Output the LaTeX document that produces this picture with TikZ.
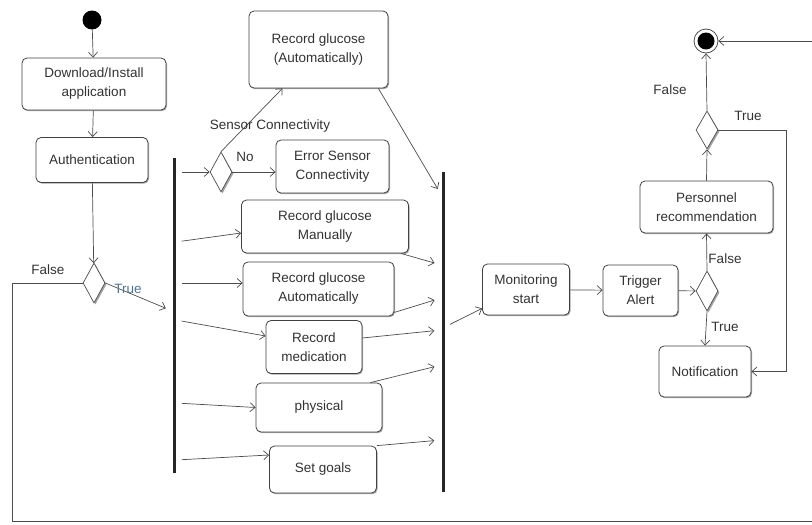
\documentclass[tikz,border=0pt]{standalone}
\usepackage{fontspec}
\setmainfont{Liberation Sans}
\usetikzlibrary{arrows.meta,shapes.geometric,shadows}
\definecolor{truecol}{RGB}{80,115,145}
\begin{document}
\begin{tikzpicture}[x=1pt,y=-1pt,
  every node/.style={font=\fontsize{13.5}{19}\selectfont, text=black!80},
  act/.style={draw=black!75, line width=0.8pt, rounded corners=5pt, fill=white, align=center, inner sep=0pt,
    drop shadow={shadow xshift=1pt,shadow yshift=-1.2pt,fill=black!50,opacity=0.7}},
  dec/.style={diamond, draw=black!70, line width=0.7pt, fill=white, inner sep=0pt, minimum width=22pt, minimum height=40pt,
    drop shadow={shadow xshift=1.5pt,shadow yshift=-1.5pt,fill=black!45,opacity=0.8}},
  bar/.style={fill=black!85, inner sep=0pt, minimum width=3pt},
  arr/.style={draw=black!70, line width=0.7pt, -{Straight Barb[length=5pt,width=9pt]}},
  fromBar/.style={shorten <=6pt},
  toBar/.style={shorten >=7pt},
  lbl/.style={text=black!80}
]
\useasboundingbox (0,0) rectangle (812,525);

% initial and final
\node[circle, fill=black, minimum size=19pt, inner sep=0pt] (start) at (92,20) {};
\node[circle, draw=black!70, line width=0.8pt, minimum size=24pt, inner sep=0pt,
  path picture={\fill[black] (path picture bounding box.center) circle (8.5pt);}] (final) at (706,41) {};

% left column
\node[act, minimum width=144pt, minimum height=52pt] (dl) at (94,84) {Download/Install\\application};
\node[act, minimum width=112pt, minimum height=45pt] (auth) at (92,160) {Authentication};
\node[dec] (d1) at (94,283) {};

% fork bars
\node[bar, minimum height=315pt] (bar1) at (174,315.5) {};
\node[bar, minimum height=320pt] (bar2) at (443,332) {};

% middle activities
\node[act, minimum width=139pt, minimum height=77pt] (rga) at (318.5,49.5) {Record glucose\\(Automatically)};
\node[dec] (d2) at (221,172) {};
\node[act, minimum width=113pt, minimum height=53pt] (err) at (332.5,166.5) {Error Sensor\\Connectivity};
\node[act, minimum width=167pt, minimum height=53pt] (rgm) at (325,226.5) {Record glucose\\Manually};
\node[act, minimum width=151pt, minimum height=54pt] (rga2) at (318.5,289) {Record glucose\\Automatically};
\node[act, minimum width=96pt, minimum height=53pt] (med) at (314,347) {Record\\medication};
\node[act, minimum width=126pt, minimum height=49pt] (phys) at (319,407.5) {physical};
\node[act, minimum width=107pt, minimum height=47pt] (goals) at (323,469.5) {Set goals};

% right part
\node[act, minimum width=87pt, minimum height=51pt] (mon) at (526,289.5) {Monitoring\\start};
\node[act, minimum width=75pt, minimum height=51pt] (trig) at (640.5,290.5) {Trigger\\Alert};
\node[dec] (d3) at (707,291) {};
\node[act, minimum width=133pt, minimum height=52pt] (pers) at (706.5,207) {Personnel\\recommendation};
\node[act, minimum width=92pt, minimum height=51pt] (notif) at (705,371.5) {Notification};
\node[dec, minimum height=38pt] (d4) at (707,130) {};

% left column connectors
\draw[arr] (start) -- (dl);
\draw[arr] (dl) -- (auth);
\draw[arr] (auth) -- (d1);
\draw[arr, toBar] (d1.east) -- (bar1.west |- 0,311);
\node[text=truecol] (t1) at (128,289) {True};
\node[lbl] (f1) at (48,270) {False};
\draw[arr] (d1.west) -- (12,283) -- (12,521) -- (830,521) |- (final.east);

% fork outputs
\draw[arr, fromBar] (bar1.east |- d2.west) -- (d2.west);
\draw[arr, fromBar] (bar1.east |- 0,242) -- ([yshift=-6.5pt]rgm.west);
\draw[arr, fromBar] (bar1.east |- 0,283) -- ([yshift=6pt]rga2.west);
\draw[arr, fromBar] (bar1.east |- 0,320) -- ([yshift=11pt]med.west);
\draw[arr, fromBar] (bar1.east |- 0,403) -- (phys.west);
\draw[arr, fromBar] (bar1.east |- 0,460) -- ([yshift=14.5pt]goals.west);

% sensor decision
\draw[arr] (d2.north) -- ([xshift=-36pt]rga.south);
\node[lbl] (sc) at (270,126) {Sensor Connectivity};
\draw[arr] (d2.east) -- (err.west |- d2.east);
\node[lbl] (no) at (245,157) {No};

% join inputs
\draw[arr, toBar] ([xshift=-10pt]rga.south east) -- (bar2.west |- 0,195);
\draw[arr, toBar] ([xshift=-8pt]rgm.south east) -- (bar2.west |- 0,265);
\draw[arr, toBar] ([yshift=4pt]rga2.south east) -- (bar2.west |- 0,298);
\draw[arr, toBar] ([yshift=9pt]med.east) -- (bar2.west |- 0,330);
\draw[arr, toBar] ([xshift=-12pt]phys.north east) -- (bar2.west |- 0,365);
\draw[arr, toBar] (goals.north east) -- (bar2.west |- 0,440);

% right part connectors
\draw[arr, fromBar] (bar2.east |- 0,327) -- ([yshift=7pt]mon.south west);
\draw[arr] (mon) -- (trig);
\draw[arr] (trig) -- (d3);
\draw[arr] (d3.north) -- (pers.south);
\node[lbl] (f3) at (725,259) {False};
\draw[arr] (d3.south) -- (notif.north);
\node[lbl] (t3) at (725,327) {True};
\draw[arr] (pers.north) -- (d4.south);
\draw[arr] (d4.north) -- (final.south);
\node[lbl] (f4) at (670,90) {False};
\draw[arr] (d4.east) -- (786,130) |- (notif.east);
\node[lbl] (t4) at (748,116) {True};
\end{tikzpicture}
\end{document}
